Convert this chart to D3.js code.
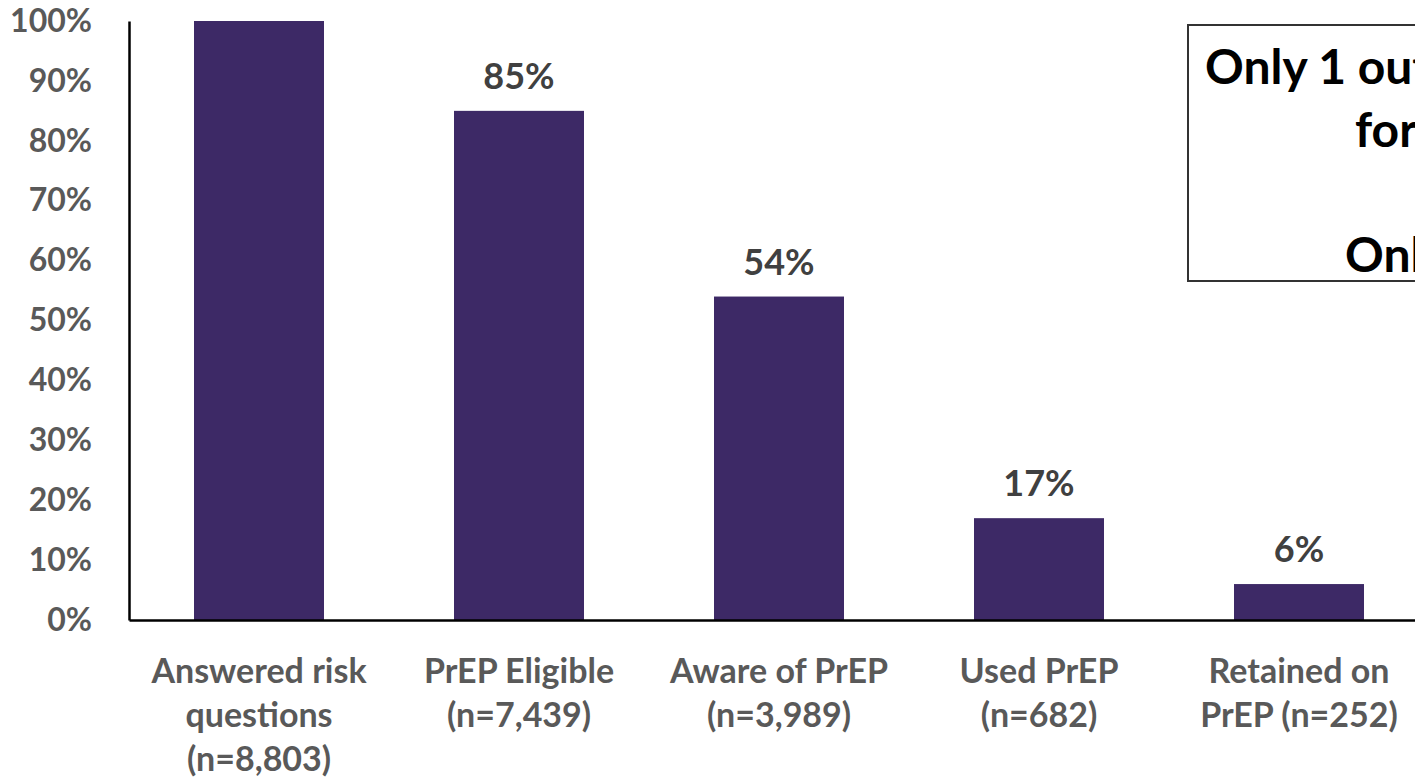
<!DOCTYPE html>
<html>
<head>
<meta charset="utf-8">
<script src="https://cdn.jsdelivr.net/npm/d3@7"></script>
<style>
  html, body { margin: 0; padding: 0; background: #ffffff; overflow: hidden; }
  svg { display: block; font-family: Lato, "Open Sans", sans-serif; font-weight: 700; }
</style>
</head>
<body>
<svg id="chart" width="1415" height="779"></svg>
<script>
// PrEP care cascade: share of respondents at each step
const categories = [
  ["Answered risk", "questions", "(n=8,803)"],
  ["PrEP Eligible", "(n=7,439)"],
  ["Aware of PrEP", "(n=3,989)"],
  ["Used PrEP", "(n=682)"],
  ["Retained on", "PrEP (n=252)"]
];
const values = [100, 85, 54, 17, 6];
const valueLabels = [null, "85%", "54%", "17%", "6%"];
const yTicks = [0, 10, 20, 30, 40, 50, 60, 70, 80, 90, 100];
const calloutLines = [
  "Only 1 out of 11 eligible used PrEP",
  "for any length of time",
  "",
  "Only 1 out of 30 retained"
];

const svg = d3.select("#chart");
const keys = categories.map((c, i) => i);

const x = d3.scaleBand()
  .domain(keys)
  .range([129, 1429])
  .paddingInner(0.5)
  .paddingOuter(0.25);

const y = d3.scaleLinear()
  .domain([0, 100])
  .range([620, 21]);

// Bars
svg.append("g")
  .selectAll("rect")
  .data(values)
  .join("rect")
  .attr("x", (d, i) => x(i))
  .attr("y", d => y(d))
  .attr("width", x.bandwidth())
  .attr("height", d => y(0) - y(d))
  .attr("fill", "#3d2966");

// Value labels above bars
svg.append("g")
  .selectAll("text")
  .data(values)
  .join("text")
  .attr("x", (d, i) => x(i) + x.bandwidth() / 2)
  .attr("y", d => y(d) - 22)
  .attr("text-anchor", "middle")
  .attr("fill", "#404040")
  .style("font-size", "36px")
  .text((d, i) => valueLabels[i]);

// Y axis
const yAxis = svg.append("g")
  .attr("transform", "translate(129,0)")
  .call(d3.axisLeft(y).tickValues(yTicks).tickSize(0).tickPadding(37).tickFormat(d => d + "%"));
yAxis.select(".domain").attr("stroke", "#000").attr("stroke-width", 2.5);
yAxis.selectAll("text")
  .attr("fill", "#595959")
  .style("font-size", "32px")
  .style("font-family", "Lato, 'Open Sans', sans-serif")
  .style("font-weight", 700);

// X axis with multi-line category labels
const xAxis = svg.append("g")
  .attr("transform", `translate(0,${y(0)})`)
  .call(d3.axisBottom(x).tickSize(0).tickFormat(""));
xAxis.select(".domain").attr("stroke", "#000").attr("stroke-width", 2.5);
xAxis.selectAll(".tick text").remove();
xAxis.selectAll(".tick")
  .append("text")
  .attr("fill", "#595959")
  .attr("text-anchor", "middle")
  .style("font-size", "34px")
  .style("font-family", "Lato, 'Open Sans', sans-serif")
  .style("font-weight", 700)
  .selectAll("tspan")
  .data(d => categories[d])
  .join("tspan")
  .attr("x", 0)
  .attr("y", (d, i) => 63 + i * 44)
  .text(d => d);

// Callout box
const callout = svg.append("g");
callout.append("rect")
  .attr("x", 1188)
  .attr("y", 25)
  .attr("width", 420)
  .attr("height", 256)
  .attr("fill", "#fff")
  .attr("stroke", "#333")
  .attr("stroke-width", 2);
const calloutX = [1205, 1355, 1355, 1345];
callout.selectAll("text")
  .data(calloutLines)
  .join("text")
  .attr("x", (d, i) => calloutX[i])
  .attr("y", (d, i) => 84 + i * 62.5)
  .attr("fill", "#000")
  .style("font-size", "48px")
  .text(d => d);
</script>
</body>
</html>
